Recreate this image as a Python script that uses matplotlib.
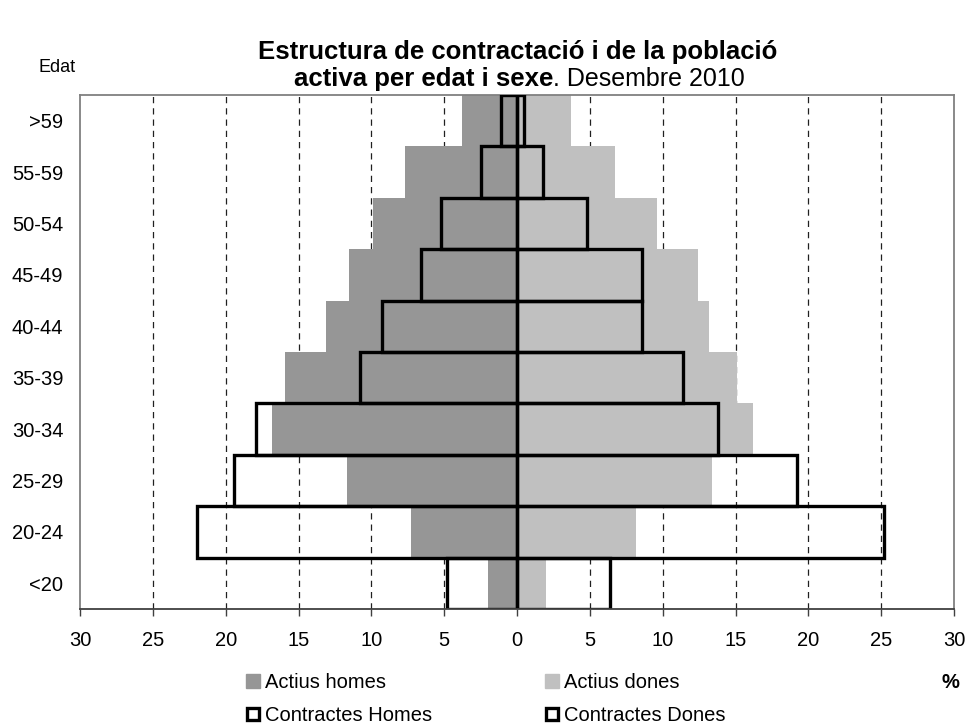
import matplotlib.pyplot as plt
from matplotlib.lines import Line2D
import numpy as np

plt.rcParams['font.family'] = ['Liberation Sans', 'DejaVu Sans']

# age groups, bottom to top
edats = ["<20", "20-24", "25-29", "30-34", "35-39", "40-44", "45-49", "50-54", "55-59", ">59"]
actius_homes = [2.0, 7.3, 11.7, 16.8, 15.9, 13.1, 11.5, 9.9, 7.7, 3.8]
actius_dones = [2.0, 8.2, 13.4, 16.2, 15.1, 13.2, 12.4, 9.6, 6.7, 3.7]
contractes_homes = [4.8, 22.0, 19.4, 17.9, 10.8, 9.3, 6.6, 5.2, 2.5, 1.1]
contractes_dones = [6.4, 25.2, 19.2, 13.8, 11.4, 8.6, 8.6, 4.8, 1.8, 0.5]
xticks = [-30, -25, -20, -15, -10, -5, 0, 5, 10, 15, 20, 25, 30]

dark = "#969696"
light = "#c0c0c0"

fig = plt.figure(figsize=(9.68, 7.27), dpi=100)
ax = fig.add_axes([80 / 968, 1 - 609 / 727, 874 / 968, 514 / 727])

y = np.arange(len(edats))

# dashed grid behind the bars
for xv in xticks[1:-1]:
    if xv != 0:
        ax.axvline(xv, color="#202020", linestyle=(0, (5, 4)), linewidth=0.9, zorder=0)

ax.barh(y, -np.array(actius_homes), height=1.0, color=dark, zorder=1)
ax.barh(y, actius_dones, height=1.0, color=light, zorder=1)
ax.barh(y, -np.array(contractes_homes), height=1.0, fill=False,
        edgecolor="black", linewidth=2.4, zorder=3)
ax.barh(y, contractes_dones, height=1.0, fill=False,
        edgecolor="black", linewidth=2.4, zorder=3)

ax.set_xlim(-30, 30)
ax.set_ylim(-0.5, len(edats) - 0.5)
ax.set_xticks(xticks)
ax.set_xticklabels([str(abs(v)) for v in xticks], fontsize=14.5)
ax.set_yticks(y)
ax.set_yticklabels(edats, fontsize=14.5)
ax.tick_params(axis="x", length=5, width=1, color="#404040", pad=11)
ax.tick_params(axis="y", length=0, pad=12)
for sp in ax.spines.values():
    sp.set_color("#808080")
    sp.set_linewidth(1.3)
ax.spines["bottom"].set_color("#404040")
ax.spines["bottom"].set_zorder(4)

# title, second line is half bold
fig.text(518 / 968, 1 - 52 / 727, "Estructura de contractació i de la població",
         ha="center", va="center", fontsize=18.5, fontweight="bold")
fig.text(553 / 968, 1 - 79 / 727, "activa per edat i sexe",
         ha="right", va="center", fontsize=18.5, fontweight="bold")
fig.text(553 / 968, 1 - 79 / 727, ". Desembre 2010",
         ha="left", va="center", fontsize=18)

fig.text(38 / 968, 1 - 67 / 727, "Edat", ha="left", va="center", fontsize=13)
fig.text(950 / 968, 1 - 683 / 727, "%", ha="center", va="center",
         fontsize=14.5, fontweight="bold")

handles = [
    Line2D([], [], marker="s", linestyle="none", markersize=10.5,
           markerfacecolor=dark, markeredgecolor=dark),
    Line2D([], [], marker="s", linestyle="none", markersize=9,
           markerfacecolor="white", markeredgecolor="black", markeredgewidth=2.4),
    Line2D([], [], marker="s", linestyle="none", markersize=10.5,
           markerfacecolor=light, markeredgecolor=light),
    Line2D([], [], marker="s", linestyle="none", markersize=9,
           markerfacecolor="white", markeredgecolor="black", markeredgewidth=2.4),
]
labels = ["Actius homes", "Contractes Homes", "Actius dones", "Contractes Dones"]
fig.legend(handles, labels, ncol=2, frameon=False, fontsize=14.5,
           loc="upper left", bbox_to_anchor=(246 / 968, 1 - 673 / 727),
           handlelength=0.7, handletextpad=0.25, columnspacing=5.6,
           labelspacing=0.7, borderpad=0, borderaxespad=0)

fig.savefig("out.png", dpi=100)
